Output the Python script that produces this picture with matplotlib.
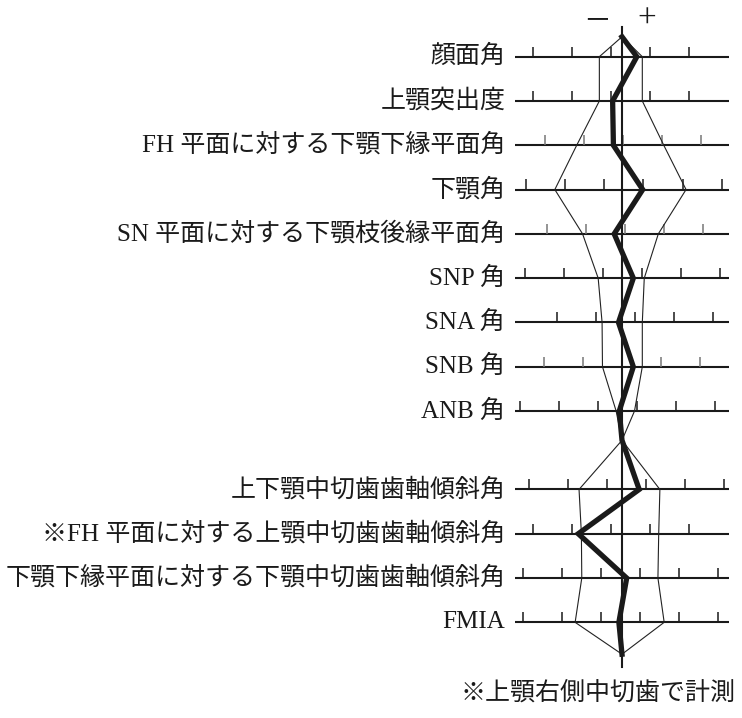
import numpy as np
import matplotlib
matplotlib.use("Agg")
import matplotlib.pyplot as plt

labels = ["顔面角", "上顎突出度", "FH 平面に対する下顎下縁平面角", "下顎角",
          "SN 平面に対する下顎枝後縁平面角", "SNP 角", "SNA 角", "SNB 角", "ANB 角",
          "上下顎中切歯歯軸傾斜角", "※FH 平面に対する上顎中切歯歯軸傾斜角",
          "下顎下縁平面に対する下顎中切歯歯軸傾斜角", "FMIA"]
# values in SD units from the mean (centre line)
norm_lo = [-0.58, -0.58, -1.16, -1.72, -1.01, -0.61, -0.51, -0.50, -0.15, -1.10, -1.04, -1.03, -1.20]
norm_hi = [0.52, 0.52, 1.07, 1.64, 0.93, 0.57, 0.52, 0.52, 0.32, 0.97, 0.94, 0.92, 1.08]
patient = [0.38, -0.24, -0.22, 0.53, -0.20, 0.29, -0.09, 0.29, -0.07, 0.44, -1.12, 0.12, -0.08]
tick_offset = [-0.29, -0.29, 0.03, 0.55, 0.08, 0.52, 0.34, 0.0, 0.38, 0.61, -0.29, 0.47, 0.47]
gray_ticks = [2, 4, 7]
note = "※上顎右側中切歯で計測"

# layout (rows; upper group 0-8, lower group after a gap)
n_upper = 9
gap = 0.77
ypos = np.array([i if i < n_upper else i + gap for i in range(len(labels))], dtype=float)
apex_top = -0.45
apex_mid = 8.66
apex_bot = 13.49
half = 2.74

fam = ["Liberation Serif", "Noto Sans CJK JP"]

fig = plt.figure(figsize=(7.42, 7.18), dpi=100)
ax = fig.add_axes([515 / 742, 0, 214 / 742, 1])
ax.set_xlim(-half, half)
ax.set_ylim(14.93, -1.28)
ax.axis("off")

# horizontal scale lines and ticks
for i, y in enumerate(ypos):
    ax.plot([-half, half], [y, y], color="#1a1a1a", lw=1.5, solid_capstyle="butt",
            clip_on=False, zorder=2)
    ticks = np.arange(tick_offset[i] - 3, tick_offset[i] + 3.01, 1.0)
    ticks = ticks[np.abs(ticks) <= 2.65]
    tc = "#777777" if i in gray_ticks else "#1a1a1a"
    ax.vlines(ticks, y - 0.23, y, color=tc, lw=1.1, zorder=2)
    ax.text(-half - 0.25, y, labels[i], ha="right", va="center", fontsize=18,
            family=fam, color="#1a1a1a")

# centre line
ax.plot([0, 0], [-0.67, 13.78], color="#1a1a1a", lw=1.5, clip_on=False, zorder=2)

# normal range polygons
up = slice(0, n_upper)
lo = slice(n_upper, len(labels))
for vals in (norm_lo, norm_hi):
    v = np.array(vals)
    xs = np.concatenate([[0], v[up], [0], v[lo], [0]])
    ys = np.concatenate([[apex_top], ypos[up], [apex_mid], ypos[lo], [apex_bot]])
    ax.plot(xs, ys, color="#222222", lw=0.8, zorder=3)

# patient profile
p = np.array(patient)
xs = np.concatenate([[0], p[up], [0], p[lo], [0]])
ys = np.concatenate([[apex_top], ypos[up], [apex_mid], ypos[lo], [apex_bot]])
ax.plot(xs, ys, color="#1a1a1a", lw=3.8, solid_joinstyle="miter", zorder=4)

ax.text(-0.64, -0.83, "－", ha="center", va="center", fontsize=20,
        family="Noto Sans CJK JP", color="#1a1a1a")
ax.text(0.64, -0.83, "+", ha="center", va="center", fontsize=24,
        family="Liberation Serif", color="#1a1a1a")
ax.text(2.9, 14.36, note, ha="right", va="center", fontsize=18, family=fam, color="#1a1a1a")

fig.savefig("out.png", dpi=100)
